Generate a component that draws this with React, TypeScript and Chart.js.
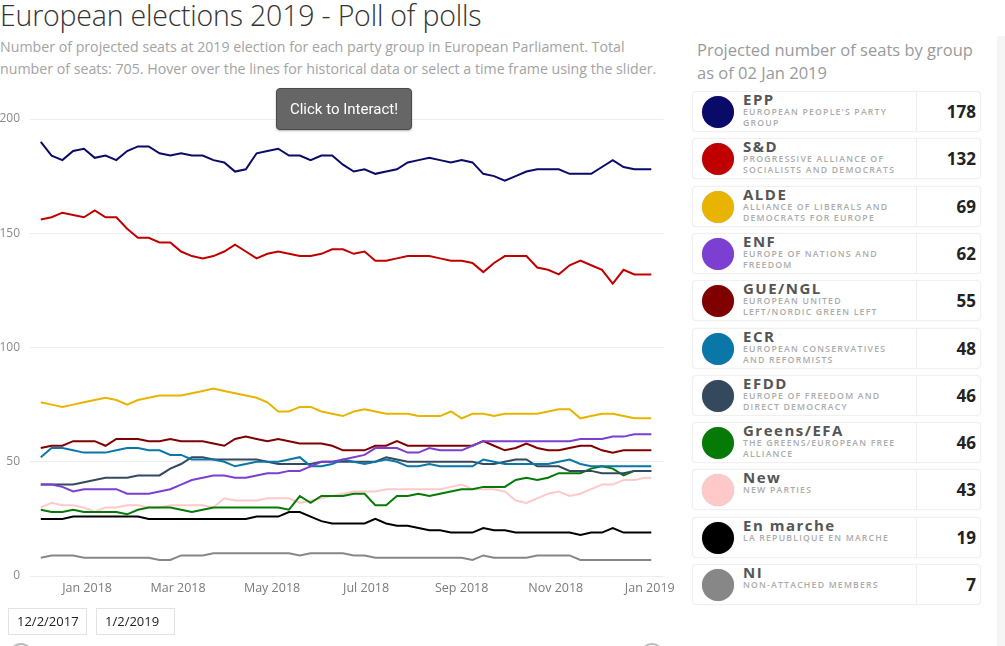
import React, { useEffect, useRef } from "react";
import { Chart, registerables } from "chart.js";

Chart.register(...registerables);

// Days since 2 Dec 2017 (weekly samples, last = 2 Jan 2019)
const days = [0, 7, 14, 21, 28, 35, 42, 49, 56, 63, 70, 77, 84, 91, 98, 105, 112, 119, 126, 133, 140, 147, 154, 161, 168, 175, 182, 189, 196, 203, 210, 217, 224, 231, 238, 245, 252, 259, 266, 273, 280, 287, 294, 301, 308, 315, 322, 329, 336, 343, 350, 357, 364, 371, 378, 385, 392, 396];

const eppSeats = [190, 184, 182, 186, 187, 183, 184, 182, 186, 188, 188, 185, 184, 185, 184, 184, 182, 181, 177, 178, 185, 186, 187, 184, 184, 182, 184, 184, 180, 177, 178, 176, 177, 178, 181, 182, 183, 182, 181, 182, 181, 176, 175, 173, 175, 177, 178, 178, 178, 176, 176, 176, 179, 182, 179, 178, 178, 178];
const sdSeats = [156, 157, 159, 158, 157, 160, 157, 157, 152, 148, 148, 146, 146, 142, 140, 139, 140, 142, 145, 142, 139, 141, 142, 141, 140, 140, 141, 143, 143, 141, 142, 138, 138, 139, 140, 140, 140, 139, 138, 138, 137, 133, 137, 140, 140, 140, 135, 134, 132, 136, 138, 136, 134, 128, 134, 132, 132, 132];
const aldeSeats = [76, 75, 74, 75, 76, 77, 78, 77, 75, 77, 78, 79, 79, 79, 80, 81, 82, 81, 80, 79, 78, 76, 72, 72, 74, 74, 72, 71, 70, 72, 73, 72, 71, 71, 71, 70, 70, 70, 72, 69, 71, 71, 70, 71, 71, 71, 71, 72, 73, 73, 69, 70, 71, 71, 70, 69, 69, 69];
const enfSeats = [40, 40, 39, 37, 38, 38, 38, 38, 36, 36, 36, 37, 38, 40, 42, 43, 44, 44, 43, 43, 44, 45, 45, 46, 46, 48, 50, 50, 51, 52, 53, 56, 56, 56, 54, 54, 56, 55, 55, 55, 57, 59, 59, 59, 59, 59, 59, 59, 59, 59, 60, 60, 60, 61, 61, 62, 62, 62];
const gueSeats = [56, 57, 57, 59, 59, 59, 57, 60, 60, 60, 59, 59, 60, 59, 59, 59, 58, 57, 60, 61, 60, 59, 60, 59, 58, 58, 58, 57, 55, 55, 55, 57, 57, 59, 57, 57, 57, 57, 57, 57, 57, 59, 57, 55, 56, 58, 56, 55, 55, 56, 57, 57, 55, 54, 55, 55, 55, 55];
const ecrSeats = [52, 56, 56, 55, 54, 54, 54, 55, 56, 56, 55, 55, 53, 53, 51, 51, 51, 50, 48, 49, 50, 50, 50, 51, 52, 48, 48, 49, 51, 50, 49, 50, 51, 50, 48, 48, 49, 48, 48, 48, 48, 51, 50, 49, 49, 49, 49, 49, 50, 51, 49, 48, 48, 48, 48, 48, 48, 48];
const efddSeats = [40, 40, 40, 40, 41, 42, 43, 43, 43, 44, 44, 44, 47, 49, 52, 52, 51, 51, 51, 51, 51, 50, 49, 49, 49, 49, 50, 50, 50, 50, 50, 50, 52, 51, 50, 50, 50, 50, 50, 50, 50, 49, 49, 50, 51, 51, 48, 48, 48, 46, 46, 46, 45, 45, 45, 46, 46, 46];
const greensSeats = [29, 28, 28, 29, 28, 28, 28, 28, 27, 29, 30, 30, 30, 29, 28, 29, 30, 30, 30, 30, 30, 30, 30, 29, 35, 32, 35, 35, 35, 36, 36, 31, 31, 35, 35, 36, 35, 36, 37, 38, 38, 39, 39, 39, 42, 43, 42, 43, 45, 45, 45, 47, 48, 47, 44, 46, 46, 46];
const newSeats = [30, 32, 31, 31, 30, 28, 30, 30, 31, 31, 30, 30, 31, 31, 31, 31, 30, 34, 33, 33, 33, 34, 34, 34, 32, 33, 34, 35, 36, 37, 37, 37, 38, 38, 38, 38, 38, 38, 39, 40, 38, 38, 38, 37, 33, 32, 34, 36, 37, 35, 36, 38, 40, 40, 42, 42, 43, 43];
const enMarcheSeats = [25, 25, 25, 26, 26, 26, 26, 26, 26, 26, 25, 25, 25, 25, 25, 25, 25, 25, 25, 25, 26, 26, 26, 28, 28, 26, 24, 23, 23, 23, 23, 25, 23, 22, 22, 21, 20, 20, 19, 19, 19, 21, 20, 20, 19, 19, 19, 19, 19, 19, 18, 19, 19, 21, 19, 19, 19, 19];
const niSeats = [8, 9, 9, 9, 8, 8, 8, 8, 8, 8, 8, 7, 7, 9, 9, 9, 10, 10, 10, 10, 10, 10, 10, 10, 9, 10, 10, 10, 10, 9, 9, 8, 8, 8, 8, 8, 8, 8, 8, 8, 7, 9, 8, 8, 8, 8, 9, 9, 9, 9, 7, 7, 7, 7, 7, 7, 7, 7];

const parties = ["EPP", "S&D", "ALDE", "ENF", "GUE/NGL", "ECR", "EFDD", "Greens/EFA", "New", "En marche", "NI"];
const partyDescriptions = [
  ["EUROPEAN PEOPLE'S PARTY", "GROUP"],
  ["PROGRESSIVE ALLIANCE OF", "SOCIALISTS AND DEMOCRATS"],
  ["ALLIANCE OF LIBERALS AND", "DEMOCRATS FOR EUROPE"],
  ["EUROPE OF NATIONS AND", "FREEDOM"],
  ["EUROPEAN UNITED", "LEFT/NORDIC GREEN LEFT"],
  ["EUROPEAN CONSERVATIVES", "AND REFORMISTS"],
  ["EUROPE OF FREEDOM AND", "DIRECT DEMOCRACY"],
  ["THE GREENS/EUROPEAN FREE", "ALLIANCE"],
  ["NEW PARTIES"],
  ["LA REPUBLIQUE EN MARCHE"],
  ["NON-ATTACHED MEMBERS"],
];
const partyColors = ["#0a0a68", "#c00000", "#e8b400", "#7b3fd2", "#800000", "#0b77a8", "#34495e", "#067a06", "#ffc9c9", "#000000", "#878787"];
const latestSeats = [178, 132, 69, 62, 55, 48, 46, 46, 43, 19, 7];
const seriesValues = [eppSeats, sdSeats, aldeSeats, enfSeats, gueSeats, ecrSeats, efddSeats, greensSeats, newSeats, enMarcheSeats, niSeats];

const tickDays = [30, 89, 150, 211, 273, 334, 395];
const tickLabels = ["Jan 2018", "Mar 2018", "May 2018", "Jul 2018", "Sep 2018", "Nov 2018", "Jan 2019"];
const yTicks = [0, 50, 100, 150, 200];

const FONT = "'Segoe UI', 'Open Sans', sans-serif";

function PollChart() {
  const ref = useRef<HTMLCanvasElement | null>(null);
  useEffect(() => {
    if (!ref.current) return;
    const chart = new Chart(ref.current, {
      type: "line",
      data: {
        datasets: parties.map((p, i) => ({
          label: p,
          data: days.map((d, j) => ({ x: d, y: seriesValues[i][j] })),
          borderColor: partyColors[i],
          backgroundColor: partyColors[i],
          borderWidth: 2,
          pointRadius: 0,
          tension: 0,
          fill: false,
        })),
      },
      options: {
        animation: false,
        responsive: false,
        plugins: { legend: { display: false }, tooltip: { enabled: false } },
        layout: { padding: { top: 19, right: 15, left: 0, bottom: 0 } },
        scales: {
          x: {
            type: "linear",
            min: -7,
            max: 404,
            grid: { display: false, drawTicks: false },
            border: { display: false },
            afterBuildTicks: (axis: any) => {
              axis.ticks = tickDays.map((v) => ({ value: v }));
            },
            afterFit: (s: any) => {
              s.height = 44;
            },
            ticks: {
              autoSkip: false,
              maxRotation: 0,
              padding: 5,
              color: "#7a7a7a",
              font: { family: FONT, size: 12.5 },
              callback: (v: any) => {
                const k = tickDays.indexOf(Number(v));
                return k >= 0 ? tickLabels[k] : "";
              },
            },
          },
          y: {
            min: 0,
            max: 200,
            afterBuildTicks: (axis: any) => {
              axis.ticks = yTicks.map((v) => ({ value: v }));
            },
            afterFit: (s: any) => {
              s.width = 30;
            },
            grid: { color: "#ededed", drawTicks: false, lineWidth: 1 },
            border: { display: false },
            ticks: {
              padding: 10,
              color: "#8a8a8a",
              font: { family: FONT, size: 12 },
            },
          },
        },
      },
    });
    return () => chart.destroy();
  }, []);
  return <canvas ref={ref} width={680} height={520} style={{ position: "absolute", left: 0, top: 100, width: 680, height: 520 }} />;
}

export default function App() {
  useEffect(() => {
    document.body.style.margin = "0";
  }, []);
  const cardTop = 91;
  const cardPitch = 47.3;
  return (
    <div style={{ position: "relative", width: 1005, height: 646, overflow: "hidden", background: "#fff", fontFamily: FONT }}>
      <div style={{ position: "absolute", left: 0, top: -4, fontSize: 28.5, fontWeight: 300, color: "#333", whiteSpace: "nowrap", letterSpacing: -0.2 }}>
        European elections 2019 - Poll of polls
      </div>
      <div style={{ position: "absolute", left: 0, top: 36, width: 690, fontSize: 14.2, lineHeight: "22px", color: "#a3a3a3", fontWeight: 400 }}>
        <div style={{ whiteSpace: "nowrap" }}>Number of projected seats at 2019 election for each party group in European Parliament. Total</div>
        <div style={{ whiteSpace: "nowrap" }}>number of seats: 705. Hover over the lines for historical data or select a time frame using the slider.</div>
      </div>

      <PollChart />

      <div
        style={{
          position: "absolute",
          left: 276,
          top: 88,
          width: 136,
          height: 42,
          boxSizing: "border-box",
          background: "#666",
          border: "1px solid #4a4a4a",
          borderRadius: 4,
          boxShadow: "0 1px 2px rgba(0,0,0,0.3)",
          color: "#fff",
          fontSize: 15,
          display: "flex",
          alignItems: "center",
          justifyContent: "center",
          fontFamily: "'Roboto', 'Open Sans', sans-serif",
        }}
      >
        Click to Interact!
      </div>

      {[{ l: 8, t: "12/2/2017" }, { l: 96, t: "1/2/2019" }].map((b) => (
        <div
          key={b.t}
          style={{
            position: "absolute",
            left: b.l,
            top: 608,
            width: 79,
            height: 27,
            boxSizing: "border-box",
            border: "1px solid #e3e3e3",
            fontSize: 13,
            color: "#222",
            paddingLeft: 8,
            lineHeight: "25px",
          }}
        >
          {b.t}
        </div>
      ))}
      <div style={{ position: "absolute", left: 9, top: 643, width: 24, height: 24, borderRadius: "50%", border: "2px solid #bbb", boxSizing: "border-box" }} />
      <div style={{ position: "absolute", left: 640, top: 643, width: 24, height: 24, borderRadius: "50%", border: "2px solid #bbb", boxSizing: "border-box" }} />

      <div style={{ position: "absolute", left: 697, top: 38, fontSize: 16.5, lineHeight: "23px", color: "#9a9a9a" }}>
        <div style={{ whiteSpace: "nowrap" }}>Projected number of seats by group</div>
        <div style={{ whiteSpace: "nowrap" }}>as of 02 Jan 2019</div>
      </div>
      <div style={{ position: "absolute", left: 997, top: 36, width: 8, height: 610, background: "#f5f5f5" }} />

      {parties.map((p, i) => (
        <div
          key={p}
          style={{
            position: "absolute",
            left: 692,
            top: Math.round(cardTop + i * cardPitch),
            width: 289,
            height: 41,
            boxSizing: "border-box",
            border: "1px solid #f0f0f0",
            borderRadius: 4,
            boxShadow: "0 0 2px rgba(0,0,0,0.06)",
            background: "#fff",
          }}
        >
          <div
            style={{
              position: "absolute",
              left: 9,
              top: 3.5,
              width: 32,
              height: 32,
              borderRadius: "50%",
              background: partyColors[i],
              boxShadow: "0 0 1px rgba(0,0,0,0.3)",
            }}
          />
          <div
            style={{
              position: "absolute",
              left: 50,
              top: -1,
              fontSize: 15,
              lineHeight: "16px",
              fontWeight: 700,
              letterSpacing: 1.5,
              color: "#555",
              whiteSpace: "nowrap",
              fontFamily: "'Open Sans', sans-serif",
            }}
          >
            {p}
          </div>
          <div
            style={{
              position: "absolute",
              left: 50,
              top: 15,
              fontSize: 8.7,
              lineHeight: "10.5px",
              letterSpacing: 1.2,
              color: "#ababab",
              whiteSpace: "nowrap",
              fontFamily: "'Open Sans', sans-serif",
              fontWeight: 600,
            }}
          >
            {partyDescriptions[i].map((line) => (
              <div key={line}>{line}</div>
            ))}
          </div>
          <div style={{ position: "absolute", left: 223, top: 0, width: 1, height: 39, background: "#eeeeee" }} />
          <div
            style={{
              position: "absolute",
              right: 4,
              top: 0,
              height: 39,
              display: "flex",
              alignItems: "center",
              fontSize: 17,
              fontWeight: 700,
              color: "#222",
              fontFamily: "'Open Sans', sans-serif",
            }}
          >
            {latestSeats[i]}
          </div>
        </div>
      ))}
    </div>
  );
}
